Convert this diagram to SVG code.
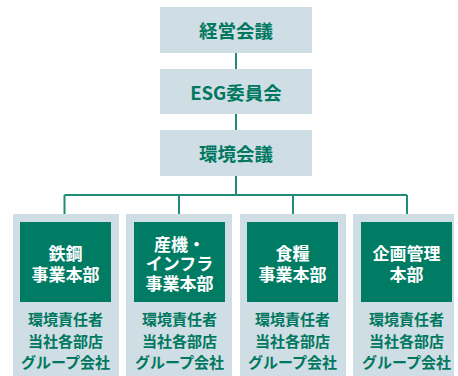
<svg xmlns="http://www.w3.org/2000/svg" width="458" height="376" viewBox="0 0 458 376">
<style>
.top{fill:#cfdde4}
.col{fill:#cfdde4}
.inner{fill:#007b64}
.t{font-family:"Noto Sans CJK JP","Noto Sans",sans-serif;font-weight:bold;text-anchor:middle;dominant-baseline:central}
.tt{font-size:18.5px;fill:#00785f}
.it{font-size:17px;fill:#ffffff}
.st{font-size:15px;fill:#00785f}
.conn{stroke:#1e8c76;stroke-width:2;fill:none}
</style>
<rect width="458" height="376" fill="#ffffff"/>
<g id="connectors">
<path class="conn" d="M236 53V69M236 114V130M236 176V195M64.5 195H407M64.5 195V214M179 195V214M293 195V214M407 195V214"/>
</g>
<g id="n1"><rect class="top" x="160" y="7" width="152" height="46"/><text class="t tt" x="236" y="30">経営会議</text></g>
<g id="n2"><rect class="top" x="160" y="69" width="152" height="45"/><text class="t tt" x="236" y="91.5">ESG委員会</text></g>
<g id="n3"><rect class="top" x="160" y="130" width="152" height="46"/><text class="t tt" x="236" y="153">環境会議</text></g>
<g id="c1">
<rect class="col" x="13" y="214" width="106" height="162"/>
<rect class="inner" x="20" y="222" width="91" height="80"/>
<text class="t it"><tspan x="65.5" y="252">鉄鋼</tspan><tspan x="65.5" y="273">事業本部</tspan></text>
<text class="t st"><tspan x="65.5" y="318">環境責任者</tspan><tspan x="65.5" y="340">当社各部店</tspan><tspan x="65.5" y="361">グループ会社</tspan></text>
</g>
<g id="c2">
<rect class="col" x="126" y="214" width="106" height="162"/>
<rect class="inner" x="134" y="222" width="91" height="80"/>
<text class="t it"><tspan x="179.5" y="243">産機・</tspan><tspan x="179.5" y="262">インフラ</tspan><tspan x="179.5" y="282">事業本部</tspan></text>
<text class="t st"><tspan x="179.5" y="318">環境責任者</tspan><tspan x="179.5" y="340">当社各部店</tspan><tspan x="179.5" y="361">グループ会社</tspan></text>
</g>
<g id="c3">
<rect class="col" x="240" y="214" width="106" height="162"/>
<rect class="inner" x="247" y="222" width="91" height="80"/>
<text class="t it"><tspan x="292.5" y="252">食糧</tspan><tspan x="292.5" y="273">事業本部</tspan></text>
<text class="t st"><tspan x="292.5" y="318">環境責任者</tspan><tspan x="292.5" y="340">当社各部店</tspan><tspan x="292.5" y="361">グループ会社</tspan></text>
</g>
<g id="c4">
<rect class="col" x="353" y="214" width="101" height="162"/>
<rect class="inner" x="361" y="222" width="91" height="80"/>
<text class="t it"><tspan x="406.5" y="252">企画管理</tspan><tspan x="406.5" y="273">本部</tspan></text>
<text class="t st"><tspan x="406.5" y="318">環境責任者</tspan><tspan x="406.5" y="340">当社各部店</tspan><tspan x="406.5" y="361">グループ会社</tspan></text>
</g>
</svg>
